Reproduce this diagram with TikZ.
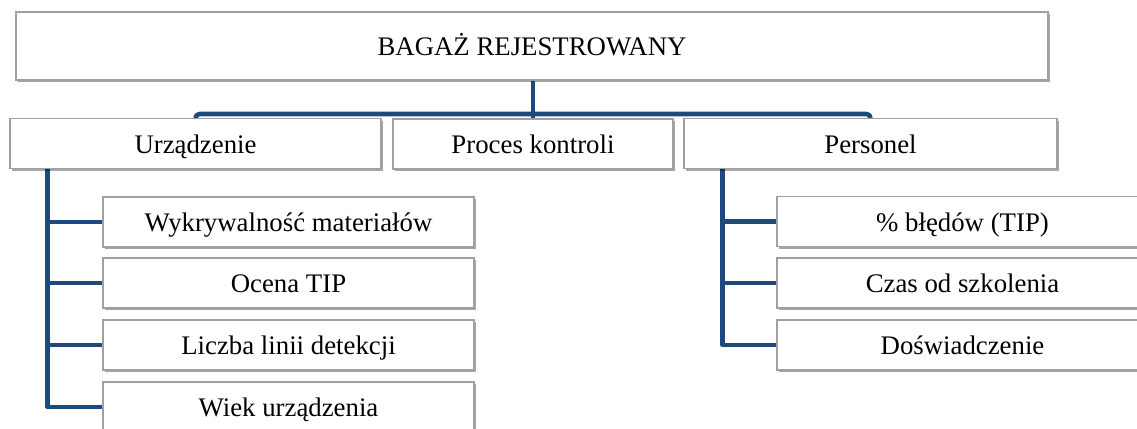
\documentclass[tikz,border=0pt]{standalone}
\usepackage{fontspec}
\setmainfont{Liberation Serif}
\usetikzlibrary{shadows,backgrounds}
\definecolor{linkblue}{HTML}{1F497D}
\definecolor{boxgray}{HTML}{A0A0A0}
\tikzset{
  box/.style={draw=boxgray,fill=white,line width=.6pt,inner sep=0pt,
    minimum height=25pt,font=\fontsize{13.4}{15}\selectfont,
    text height=11pt,text depth=1.5pt,
    drop shadow={shadow xshift=.9pt,shadow yshift=-1.1pt,fill=black,opacity=.35}},
  link/.style={draw=linkblue,line width=2.3pt,line join=round}
}
\begin{document}
\begin{tikzpicture}[x=.5pt,y=-.5pt]
        \useasboundingbox (0,0) rectangle (1137,429);
        \node[box,minimum width=516pt,minimum height=34pt](top) at(532,46){BAGAŻ REJESTROWANY};
        \node[box,minimum width=185.5pt](dev) at(195.5,143.5){Urządzenie};
        \node[box,minimum width=140pt](proc) at(533,144){Proces kontroli};
        \node[box,minimum width=186.5pt](staff) at(870.5,143.5){Personel};
        \node[box,minimum width=185.5pt](w1) at(288.5,222){Wykrywalność materiałów};
        \node[box,minimum width=185.5pt](w2) at(288.5,283){Ocena TIP};
        \node[box,minimum width=185.5pt](w3) at(288.5,345){Liczba linii detekcji};
        \node[box,minimum width=185.5pt](w4) at(288.5,407){Wiek urządzenia};
        \node[box,minimum width=185.5pt](p1) at(962.5,221.5){\% błędów (TIP)};
        \node[box,minimum width=185.5pt](p2) at(962.5,283){Czas od szkolenia};
        \node[box,minimum width=185.5pt](p3) at(962.5,345){Doświadczenie};
        \begin{scope}[on background layer]
        \coordinate(bar) at(533,114);
        \draw[link](proc.north)--(proc.north|-top.south);
        \draw[link,rounded corners=2pt](dev)|-(bar)-|(staff);
        \path(dev.south west)++(38,0)coordinate(lt);
        \path(staff.south west)++(39,0)coordinate(rt);
        \draw[link](lt)|-(w4.west);
        \foreach \n in {w1,w2,w3}\draw[link](lt|-\n.west)--(\n.west);
        \draw[link](rt)|-(p3.west);
        \foreach \n in {p1,p2}\draw[link](rt|-\n.west)--(\n.west);
        \end{scope}
    \end{tikzpicture}
\end{document}
